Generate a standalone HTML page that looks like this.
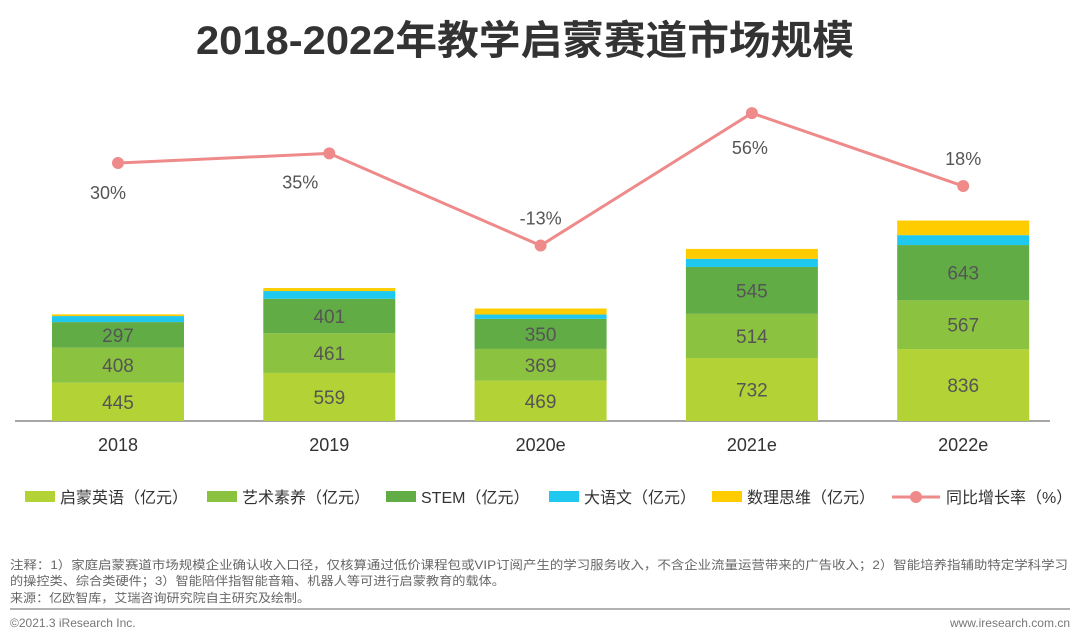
<!DOCTYPE html>
<html><head><meta charset="utf-8"><style>
body{margin:0;background:#fff;}
svg{display:block;font-family:"Liberation Sans","Noto Sans CJK SC",sans-serif;}
</style></head><body>
<svg id="c" width="1080" height="644" viewBox="0 0 1080 644">
<text x="525" y="54" text-anchor="middle" font-size="40" font-weight="bold" fill="#333" textLength="658" lengthAdjust="spacingAndGlyphs">2018-2022年教学启蒙赛道市场规模</text>
<line x1="15" y1="421" x2="1050" y2="421" stroke="#888" stroke-width="1.5"/>
<g id="bars"></g><g id="line"></g><g id="legend"></g>
<g font-size="12" fill="#666">
<text x="10" y="569" textLength="1058" lengthAdjust="spacingAndGlyphs">注释：1）家庭启蒙赛道市场规模企业确认收入口径，仅核算通过低价课程包或VIP订阅产生的学习服务收入，不含企业流量运营带来的广告收入；2）智能培养指辅助特定学科学习</text>
<text x="10" y="585" textLength="495" lengthAdjust="spacingAndGlyphs">的操控类、综合类硬件；3）智能陪伴指智能音箱、机器人等可进行启蒙教育的载体。</text>
<text x="10" y="602" textLength="300" lengthAdjust="spacingAndGlyphs">来源：亿欧智库，艾瑞咨询研究院自主研究及绘制。</text>
</g>
<line x1="10" y1="609" x2="1070" y2="609" stroke="#999" stroke-width="1.5"/>
<text x="10" y="627" font-size="12" fill="#777">©2021.3 iResearch Inc.</text>
<text x="1070" y="627" font-size="12" fill="#777" text-anchor="end">www.iresearch.com.cn</text>
</svg>
<script>
const categories=["2018","2019","2020e","2021e","2022e"];
const english=[445,559,469,732,836];
const arts=[408,461,369,514,567];
const stem=[297,401,350,545,643];
const chinese=[70,90,50,95,115];
const math=[20,35,70,115,170];
const growth=[30,35,-13,56,18];
const seriesNames=["启蒙英语（亿元）","艺术素养（亿元）","STEM（亿元）","大语文（亿元）","数理思维（亿元）"];
const lineName="同比增长率（%）";
const NS="http://www.w3.org/2000/svg";
const colors=["#b3d235","#8bc23f","#62ac45","#1ec8ef","#ffcc00"];
const lineColor="#ee8a8a";
const base=421,k=0.086,bw=132;
const xC=i=>118+i*211.3;
const yV=v=>base-v*k;
const yG=v=>220.6-1.92*v;
function mk(t,a,p){const e=document.createElementNS(NS,t);for(const q in a)e.setAttribute(q,a[q]);p.appendChild(e);return e;}
const series=[english,arts,stem,chinese,math];
const bars=document.getElementById('bars');
categories.forEach((c,i)=>{
  let cum=0;
  series.forEach((s,j)=>{
    const y0=yV(cum),y1=yV(cum+s[i]);
    const r=mk('rect',{x:xC(i)-bw/2,y:y1,width:bw,height:y0-y1,fill:colors[j]},bars);
    
    
    if(j<3){const t=mk('text',{x:xC(i),y:(y0+y1)/2+7,'text-anchor':'middle','font-size':19,fill:'#555'},bars);t.textContent=s[i];
      
      }
    cum+=s[i];
  });
  const t=mk('text',{x:xC(i),y:451,'text-anchor':'middle','font-size':18,fill:'#333'},bars);t.textContent=c;
  
  
});
const lg=document.getElementById('line');
const pl=mk('polyline',{points:growth.map((g,i)=>xC(i)+','+yG(g)).join(' '),fill:'none',stroke:lineColor,'stroke-width':3},lg);


const ldx=[-10,-29,0,-2,0],ldy=[36,35,-21,41,-21];
growth.forEach((g,i)=>{
  const p=mk('circle',{cx:xC(i),cy:yG(g),r:6,fill:lineColor},lg);
  
  
  const t=mk('text',{x:xC(i)+ldx[i],y:yG(g)+ldy[i],'text-anchor':'middle','font-size':18,fill:'#555'},lg);t.textContent=g+'%';
  
  
});
const leg=document.getElementById('legend');
const lx=[25,207,386,549,712];
seriesNames.forEach((n,j)=>{
  const g=mk('g',{},leg);
  
  
  mk('rect',{x:lx[j],y:491,width:30,height:11,fill:colors[j]},g);
  const t=mk('text',{x:lx[j]+35,y:503,'font-size':16,fill:'#333'},g);t.textContent=n;
});
const g=mk('g',{},leg);


mk('line',{x1:892,y1:497,x2:940,y2:497,stroke:lineColor,'stroke-width':3},g);
mk('circle',{cx:916,cy:497,r:6,fill:lineColor},g);
const lt=mk('text',{x:946,y:503,'font-size':16,fill:'#333'},g);lt.textContent=lineName;
</script>
</body></html>
